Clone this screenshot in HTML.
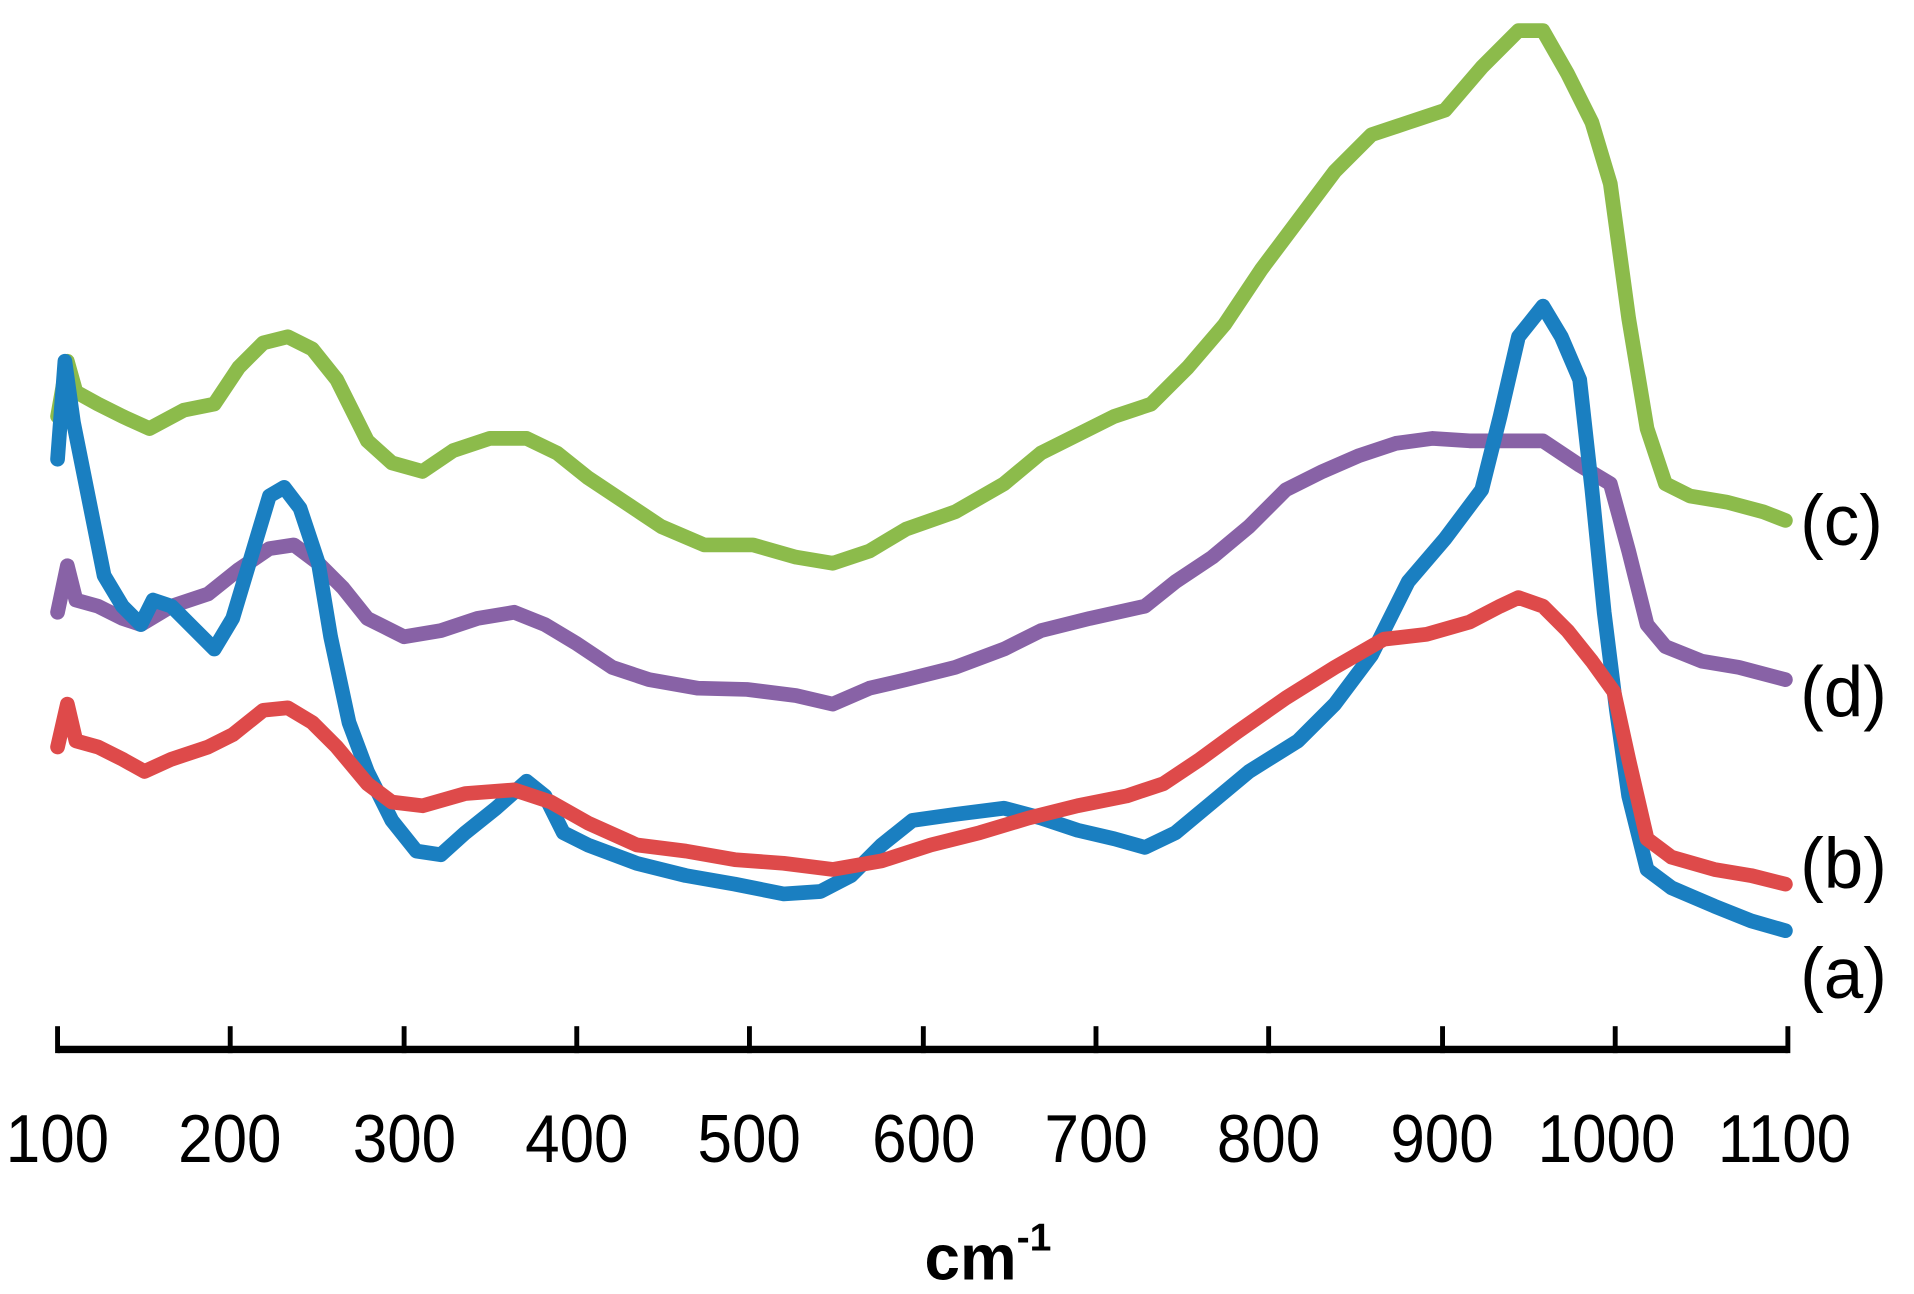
<!DOCTYPE html>
<html><head><meta charset="utf-8"><style>html,body{margin:0;padding:0;background:#fff}svg{display:block}</style></head>
<body>
<svg width="1914" height="1294" viewBox="0 0 1563 1056.7" xmlns="http://www.w3.org/2000/svg" font-family="Liberation Sans, sans-serif">
<g fill="none" stroke-linejoin="round" stroke-linecap="round" stroke-width="12">
<polyline stroke="#8cbb4b" points="47,340 55,295 62,320 80,330 100,340 122,350 150,335 175,330 195,300 215,280 235,275 255,285 275,310 300,360 320,378 345,385 370,368 400,358 430,358 455,370 480,390 510,410 540,430 575,445 615,445 650,455 680,460 710,450 740,432 780,418 820,395 850,370 880,355 910,340 940,330 970,300 1000,265 1030,220 1060,180 1090,140 1120,110 1150,100 1180,90 1210,55 1240,25 1260,25 1280,60 1300,100 1315,150 1330,260 1345,350 1360,395 1380,405 1410,410 1440,418 1458,425"/>
<polyline stroke="#8862a6" points="47,500 55,462 62,490 80,495 100,505 115,510 140,495 170,485 195,465 220,448 240,445 260,460 280,480 300,505 330,520 360,515 390,505 420,500 445,510 470,525 500,545 530,555 570,562 610,563 650,568 680,575 710,562 740,555 780,545 820,530 850,515 890,505 935,495 960,475 990,455 1020,430 1050,400 1080,385 1110,372 1140,362 1170,358 1200,360 1230,360 1260,360 1290,380 1315,395 1330,450 1345,510 1360,528 1390,540 1420,545 1458,555"/>
<polyline stroke="#1a7fc1" points="47,375 53,295 60,345 75,420 85,470 100,495 115,510 125,490 140,495 160,515 175,530 190,505 205,455 220,405 232,398 245,415 260,460 270,520 285,590 300,630 320,670 340,695 360,698 380,680 405,660 430,638 445,650 460,680 480,690 520,705 560,715 600,722 640,730 670,728 695,715 720,690 745,670 780,665 820,660 850,668 880,678 910,685 935,692 960,680 990,655 1020,630 1060,605 1090,575 1120,535 1150,475 1180,440 1210,400 1225,340 1240,275 1260,250 1275,275 1290,310 1300,400 1310,500 1320,580 1330,650 1345,710 1365,725 1400,740 1430,752 1458,760"/>
<polyline stroke="#de4a4a" points="47,610 55,575 62,605 80,610 100,620 118,630 140,620 170,610 190,600 215,580 235,578 255,590 275,610 300,640 320,655 345,658 380,648 420,645 450,655 480,672 520,690 560,695 600,702 640,705 680,710 720,703 760,690 800,680 840,668 880,658 920,650 950,640 980,620 1010,598 1050,570 1090,545 1130,522 1165,518 1200,508 1225,495 1240,488 1260,495 1280,515 1300,540 1318,565 1330,620 1345,685 1365,700 1400,710 1430,715 1458,722"/>
</g>
<g stroke="#000" stroke-width="4">
<line x1="47" y1="857" x2="1460" y2="857" stroke-width="6"/>
<line x1="47" y1="838" x2="47" y2="860"/><line x1="188" y1="838" x2="188" y2="860"/><line x1="330" y1="838" x2="330" y2="860"/><line x1="471" y1="838" x2="471" y2="860"/><line x1="612" y1="838" x2="612" y2="860"/><line x1="754" y1="838" x2="754" y2="860"/><line x1="895" y1="838" x2="895" y2="860"/><line x1="1036" y1="838" x2="1036" y2="860"/><line x1="1178" y1="838" x2="1178" y2="860"/><line x1="1319" y1="838" x2="1319" y2="860"/><line x1="1460" y1="838" x2="1460" y2="860"/>
</g>
<g font-size="55" text-anchor="middle" fill="#000" transform="scale(0.92,1)">
<text x="51" y="949">100</text><text x="204" y="949">200</text><text x="359" y="949">300</text><text x="512" y="949">400</text><text x="665" y="949">500</text><text x="820" y="949">600</text><text x="973" y="949">700</text><text x="1126" y="949">800</text><text x="1280" y="949">900</text><text x="1426" y="949">1000</text><text x="1584" y="949">1100</text>
</g>
<text x="755" y="1045" font-size="52" font-weight="bold">cm<tspan font-size="32" dy="-24">-1</tspan></text>
<g font-size="58" fill="#000">
<text x="1470" y="445">(c)</text><text x="1470" y="585">(d)</text><text x="1470" y="725">(b)</text><text x="1470" y="815">(a)</text>
</g>
</svg>
</body></html>
